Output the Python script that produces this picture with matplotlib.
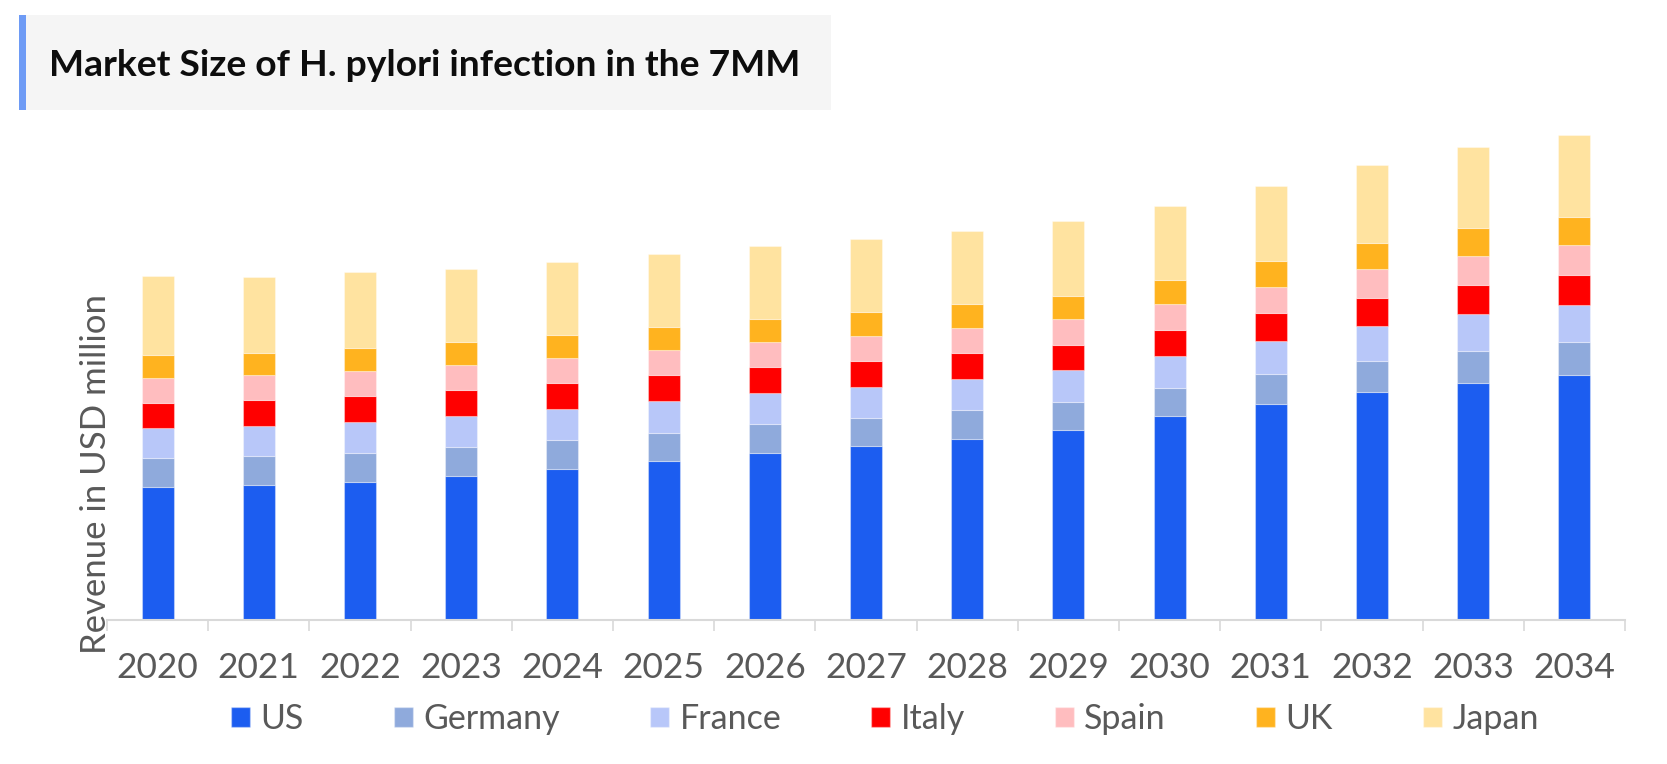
import matplotlib
matplotlib.use('Agg')
import matplotlib.pyplot as plt
import numpy as np
from matplotlib.patches import Rectangle, Patch

plt.rcParams['font.family'] = ['Lato', 'DejaVu Sans']

# dados (escala relativa)
years = ['2020', '2021', '2022', '2023', '2024', '2025', '2026', '2027',
         '2028', '2029', '2030', '2031', '2032', '2033', '2034']
us = [133.3, 135.0, 138.0, 144.0, 151.0, 159.0, 167.3, 174.0, 181.3, 190.0,
      203.7, 216.3, 228.0, 237.0, 244.7]
germany = [28.4, 29.0, 29.0, 29.0, 29.0, 28.3, 28.7, 28.3, 28.7, 28.0,
           28.3, 29.7, 31.0, 32.3, 33.3]
france = [30.3, 30.3, 30.7, 31.0, 31.0, 31.7, 30.7, 31.0, 31.0, 31.7,
          32.0, 33.3, 35.0, 36.4, 37.0]
italy = [25.3, 25.7, 26.0, 26.0, 26.0, 25.7, 26.3, 26.0, 26.0, 25.6,
         26.3, 27.7, 28.3, 29.6, 30.0]
spain = [24.7, 24.7, 25.0, 25.0, 25.0, 25.3, 25.0, 25.0, 25.0, 25.4,
         25.7, 26.3, 28.4, 29.0, 29.7]
uk = [23.0, 22.6, 23.3, 23.0, 23.5, 23.0, 23.3, 23.7, 24.3, 23.6,
      24.0, 25.7, 26.3, 27.7, 28.3]
japan = [79.0, 75.4, 75.7, 72.7, 72.2, 73.0, 72.7, 73.3, 72.7, 74.4,
         73.7, 75.3, 77.7, 81.0, 82.0]

series = {'US': us, 'Germany': germany, 'France': france, 'Italy': italy,
          'Spain': spain, 'UK': uk, 'Japan': japan}
colors = ['#1C5DF0', '#8FAADC', '#B8C7F9', '#FF0000', '#FFBDBF', '#FFB31F', '#FFE3A0']
edge = (1, 1, 1, 0.35)

W, H = 1667, 764
fig = plt.figure(figsize=(W / 100, H / 100), dpi=100)

# caixa do título
fig.patches.append(Rectangle((19 / W, 1 - 110 / H), (831 - 19) / W, 95 / H,
                             transform=fig.transFigure, facecolor='#F5F5F5',
                             edgecolor='none', zorder=0))
fig.patches.append(Rectangle((19 / W, 1 - 110 / H), 7 / W, 95 / H,
                             transform=fig.transFigure, facecolor='#6E9BF5',
                             edgecolor='none', zorder=1))
fig.text(49 / W, 1 - 66 / H, 'Market Size of H. pylori infection in the 7MM',
         fontsize=26.8, fontweight='bold', color='#0D0D0D', va='center', ha='left')

ax = fig.add_axes([107 / W, 1 - 620 / H, (1625 - 107) / W, 500 / H])
x = np.arange(len(years))
bottom = np.zeros(len(years))
for (name, vals), c in zip(series.items(), colors):
    ax.bar(x, vals, width=0.316, bottom=bottom, color=c, label=name,
           edgecolor=edge, linewidth=0.8)
    bottom += np.array(vals)

ax.set_xlim(-0.5, len(years) - 0.5)
ax.set_ylim(0, 500)
for s in ['top', 'right', 'left']:
    ax.spines[s].set_visible(False)
ax.spines['bottom'].set_color('#D9D9D9')
ax.spines['bottom'].set_linewidth(1.5)
ax.set_yticks([])
ax.set_xticks(x)
ax.set_xticklabels(years)
ax.tick_params(axis='x', which='major', length=0, pad=23, labelsize=25.5, labelcolor='#595959')
ax.set_xticks(np.arange(-0.5, len(years)), minor=True)
ax.tick_params(axis='x', which='minor', length=8, width=1.2, color='#D9D9D9')

fig.text(96 / W, 1 - 474 / H, 'Revenue in USD million', rotation=90,
         fontsize=25, color='#595959', ha='center', va='center')

handles = [Patch(facecolor=c, edgecolor=edge) for c in colors]
fig.legend(handles, list(series.keys()), loc='center', ncol=7,
           bbox_to_anchor=(885 / W, 1 - 719 / H), frameon=False, fontsize=24.5,
           labelcolor='#595959', handlelength=0.56, handleheight=0.56,
           handletextpad=0.3, columnspacing=2.65)

fig.savefig('out.png', dpi=100)
